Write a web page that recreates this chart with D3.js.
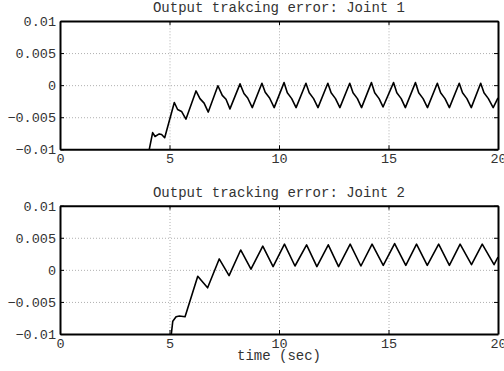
<!DOCTYPE html>
<html>
<head>
<meta charset="utf-8">
<script src="https://cdn.jsdelivr.net/npm/d3@7"></script>
<style>
  body { margin: 0; background: #ffffff; }
  svg { display: block; }
  text { font-family: "Liberation Mono", "DejaVu Sans Mono", monospace; fill: #333333; }
</style>
</head>
<body>
<script>
// 数据：两个关节的输出跟踪误差 (时间, 误差)
const joint1Time = [3.99, 4.23, 4.34, 4.53, 4.64, 4.78, 5.22, 5.37, 5.55, 5.75,
    6.21, 6.39, 6.58, 6.77, 7.21, 7.41, 7.58, 7.76, 8.22, 8.40, 8.57, 8.78,
    9.22, 9.37, 9.57, 9.78, 10.23, 10.38, 10.58, 10.78, 11.23, 11.38, 11.58, 11.78,
    12.23, 12.38, 12.58, 12.78, 13.23, 13.38, 13.58, 13.77, 14.22, 14.37, 14.57, 14.75,
    15.23, 15.38, 15.58, 15.77, 16.23, 16.38, 16.58, 16.78, 17.23, 17.38, 17.58, 17.78,
    18.23, 18.38, 18.58, 18.78, 19.21, 19.36, 19.56, 19.78, 20.0];
const joint1Error = [-0.0115, -0.0074, -0.0080, -0.0076, -0.0077, -0.0082, -0.0027, -0.0038, -0.0041, -0.0053,
    -0.0009, -0.0021, -0.0028, -0.0042, -0.0001, -0.0016, -0.0022, -0.0037, 0.0002, -0.0013, -0.0020, -0.0035,
    0.0003, -0.0011, -0.0020, -0.0035, 0.0004, -0.0012, -0.0021, -0.0035, 0.0003, -0.0012, -0.0021, -0.0035,
    0.0003, -0.0012, -0.0021, -0.0035, 0.0003, -0.0012, -0.0021, -0.0035, 0.0004, -0.0012, -0.0021, -0.0034,
    0.0004, -0.0012, -0.0021, -0.0035, 0.0004, -0.0012, -0.0021, -0.0035, 0.0003, -0.0012, -0.0021, -0.0035,
    0.0003, -0.0012, -0.0021, -0.0035, 0.0003, -0.0012, -0.0021, -0.0035, -0.0020];

const joint2Time = [5.05, 5.15, 5.30, 5.45, 5.71, 6.29, 6.74, 7.27, 7.72, 8.25, 8.72,
    9.26, 9.73, 10.25, 10.73, 11.26, 11.73, 12.25, 12.72, 13.25, 13.74, 14.25, 14.76,
    15.28, 15.79, 16.28, 16.77, 17.29, 17.78, 18.27, 18.79, 19.28, 19.82, 20.0];
const joint2Error = [-0.0110, -0.0080, -0.0073, -0.0072, -0.0073, -0.0010, -0.0028, 0.0017, -0.0009, 0.0031, 0.0001,
    0.0037, 0.0005, 0.0040, 0.0006, 0.0039, 0.0005, 0.0039, 0.0005, 0.0040, 0.0006, 0.0040, 0.0007,
    0.0041, 0.0007, 0.0040, 0.0007, 0.0040, 0.0007, 0.0040, 0.0008, 0.0040, 0.0008, 0.0020];

const xTicks = [0, 5, 10, 15, 20];
const xTickLabels = ['0', '5', '10', '15', '20'];
const yTicks = [-0.01, -0.005, 0, 0.005, 0.01];
const yTickLabels = ['\u22120.01', '\u22120.005', '0', '0.005', '0.01'];
const titles = ['Output trakcing error: Joint 1', 'Output tracking error: Joint 2'];
const xLabel = 'time (sec)';

const svgWidth = 504, svgHeight = 371;
const svg = d3.select('body').append('svg')
    .attr('width', svgWidth)
    .attr('height', svgHeight);

const left = 60, right = 498;
const panels = [
    {top: 21, bottom: 149.3, time: joint1Time, error: joint1Error, title: titles[0]},
    {top: 205.7, bottom: 334, time: joint2Time, error: joint2Error, title: titles[1]}
];

const x = d3.scaleLinear().domain([0, 20]).range([left, right]);

panels.forEach((p, i) => {
    const y = d3.scaleLinear().domain([-0.01, 0.01]).range([p.bottom, p.top]);
    const g = svg.append('g');
    const w = right - left, h = p.bottom - p.top;

    // 网格线（虚线）
    g.append('g')
        .attr('transform', `translate(0,${p.bottom})`)
        .call(d3.axisBottom(x).tickValues(xTicks.slice(1, -1)).tickSize(-h).tickFormat(''))
        .call(s => s.select('.domain').remove())
        .selectAll('line').attr('stroke', '#b0b0b0').attr('stroke-dasharray', '1,2');
    g.append('g')
        .attr('transform', `translate(${left},0)`)
        .call(d3.axisLeft(y).tickValues(yTicks.slice(1, -1)).tickSize(-w).tickFormat(''))
        .call(s => s.select('.domain').remove())
        .selectAll('line').attr('stroke', '#b0b0b0').attr('stroke-dasharray', '1,2');

    // 曲线，裁剪到坐标区域
    const clipId = `clip-${i}`;
    svg.append('clipPath').attr('id', clipId)
        .append('rect').attr('x', left).attr('y', p.top).attr('width', w).attr('height', h);
    const pts = p.time.map((t, k) => [t, p.error[k]]);
    g.append('path')
        .datum(pts)
        .attr('clip-path', `url(#${clipId})`)
        .attr('fill', 'none')
        .attr('stroke', '#000000')
        .attr('stroke-width', 1.6)
        .attr('stroke-linejoin', 'round')
        .attr('d', d3.line().x(d => x(d[0])).y(d => y(d[1])));

    // 坐标轴（刻度朝内）
    const fmtX = d => xTickLabels[xTicks.indexOf(d)];
    const fmtY = d => yTickLabels[yTicks.indexOf(d)];
    const axes = [
        g.append('g').attr('transform', `translate(0,${p.bottom})`)
            .call(d3.axisBottom(x).tickValues(xTicks).tickSizeInner(-4).tickSizeOuter(0).tickPadding(4).tickFormat(fmtX)),
        g.append('g').attr('transform', `translate(0,${p.top})`)
            .call(d3.axisTop(x).tickValues(xTicks).tickSizeInner(-4).tickSizeOuter(0).tickFormat('')),
        g.append('g').attr('transform', `translate(${left},0)`)
            .call(d3.axisLeft(y).tickValues(yTicks).tickSizeInner(-4).tickSizeOuter(0).tickPadding(4).tickFormat(fmtY)),
        g.append('g').attr('transform', `translate(${right},0)`)
            .call(d3.axisRight(y).tickValues(yTicks).tickSizeInner(-4).tickSizeOuter(0).tickFormat(''))
    ];
    axes.forEach(a => {
        a.select('.domain').attr('stroke', '#000000').attr('stroke-width', 2);
        a.selectAll('line').attr('stroke', '#000000');
        a.selectAll('text')
            .style('font-family', '"Liberation Mono", monospace')
            .style('font-size', '13.5px')
            .attr('fill', '#333333');
    });

    // 标题
    g.append('text')
        .attr('x', (left + right) / 2)
        .attr('y', p.top - 9)
        .attr('text-anchor', 'middle')
        .style('font-size', '14px')
        .text(p.title);
});

svg.append('text')
    .attr('x', (left + right) / 2)
    .attr('y', 360)
    .attr('text-anchor', 'middle')
    .style('font-size', '14px')
    .text(xLabel);
</script>
</body>
</html>
